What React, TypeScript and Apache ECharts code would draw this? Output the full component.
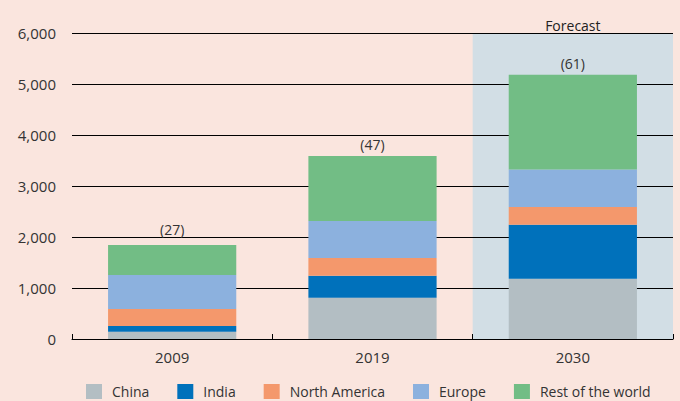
import React, { useEffect, useRef } from "react";
import * as echarts from "echarts";

const years = ["2009", "2019", "2030"];
const china = [140, 810, 1180];
const india = [115, 430, 1060];
const northAmerica = [335, 350, 350];
const europe = [665, 725, 735];
const restOfWorld = [590, 1275, 1855];
const totalLabels = ["(27)", "(47)", "(61)"];
const forecastSpan = [null, null, 6000];
const yTicks = { min: 0, max: 6000, interval: 1000 };

const COLORS = {
  China: "#b3bec3",
  India: "#0071bb",
  "North America": "#f4986c",
  Europe: "#8cb1de",
  "Rest of the world": "#72bd85",
};

const FONT = "'Open Sans', 'Noto Sans', sans-serif";
const TEXT = "#333333";

export default function App() {
  const ref = useRef<HTMLDivElement>(null);

  useEffect(() => {
    if (!ref.current) return;
    const chart = echarts.init(ref.current, undefined, { renderer: "svg" });
    const stackSeries = [
      { name: "China", data: china },
      { name: "India", data: india },
      { name: "North America", data: northAmerica },
      { name: "Europe", data: europe },
      { name: "Rest of the world", data: restOfWorld },
    ].map((s, i) => ({
      name: s.name,
      type: "bar",
      stack: "total",
      xAxisIndex: 0,
      barWidth: "64%",
      data:
        i === 4
          ? s.data.map((v, k) => ({
              value: v,
              label: { distance: k === 0 ? 8 : 4 },
            }))
          : s.data,
      z: 3,
      itemStyle: { color: (COLORS as any)[s.name] },
      label:
        i === 4
          ? {
              show: true,
              position: "top",
              distance: 4,
              fontFamily: FONT,
              fontSize: 14,
              color: TEXT,
              formatter: (p: any) => totalLabels[p.dataIndex],
            }
          : { show: false },
    }));

    chart.setOption({
      animation: false,
      backgroundColor: "#fae5de",
      textStyle: { fontFamily: FONT },
      grid: { left: 72, right: 7, top: 33, bottom: 62, containLabel: false },
      legend: {
        data: ["China", "India", "North America", "Europe", "Rest of the world"],
        left: 86,
        top: 384,
        padding: 0,
        itemWidth: 16,
        itemHeight: 15,
        itemGap: 28,
        icon: "rect",
        textStyle: {
          fontFamily: FONT,
          fontSize: 14,
          lineHeight: 15,
          color: TEXT,
          padding: [0, 0, 0, 5],
        },
      },
      xAxis: [
        {
          type: "category",
          data: years,
          axisLine: { lineStyle: { color: "#000", width: 1 } },
          axisTick: { show: true, inside: true, length: 5, lineStyle: { color: "#000" } },
          axisLabel: { fontFamily: FONT, fontSize: 15, color: TEXT, margin: 10 },
          z: 4,
        },
        {
          type: "category",
          data: years,
          show: false,
        },
      ],
      yAxis: {
        type: "value",
        min: yTicks.min,
        max: yTicks.max,
        interval: yTicks.interval,
        axisLine: { show: false },
        axisTick: { show: false },
        splitLine: { lineStyle: { color: "#000", width: 1 } },
        axisLabel: {
          fontFamily: FONT,
          fontSize: 15,
          color: TEXT,
          margin: 16,
          formatter: (v: number) => v.toLocaleString("en-US"),
        },
      },
      series: [
        {
          name: "Forecast",
          type: "bar",
          xAxisIndex: 1,
          barWidth: "100%",
          data: forecastSpan,
          z: -1,
          silent: true,
          itemStyle: { color: "#d2dee5" },
          label: {
            show: true,
            position: "top",
            distance: 1,
            formatter: "Forecast",
            fontFamily: FONT,
            fontSize: 14,
            color: "#222",
          },
        },
        ...stackSeries,
      ],
    });
    return () => chart.dispose();
  }, []);

  return (
    <div
      ref={ref}
      style={{ position: "fixed", left: 0, top: 0, width: 680, height: 401 }}
    />
  );
}
